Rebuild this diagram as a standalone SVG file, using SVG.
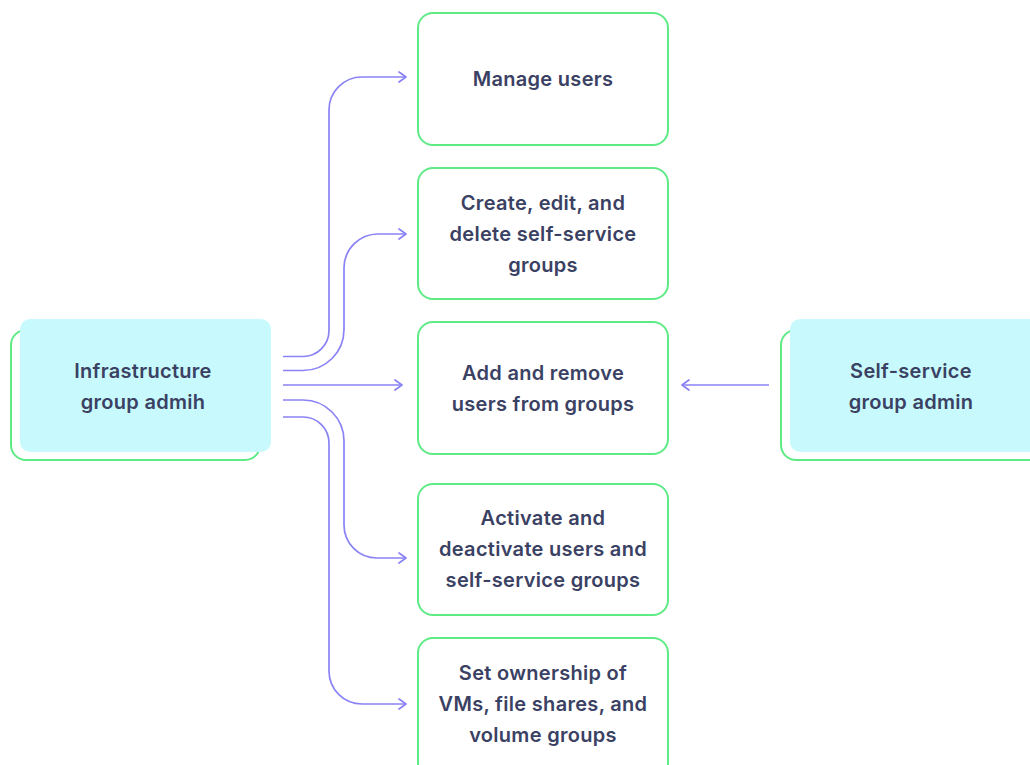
<svg xmlns="http://www.w3.org/2000/svg" width="1030" height="765" viewBox="0 0 1030 765">
<defs>
<style>
.box{fill:#fff;stroke:#5EEB86;stroke-width:2}
.back{fill:none;stroke:#5EEB86;stroke-width:2}
.front{fill:#C8FAFD}
.t{font-family:Inter,"Noto Sans",sans-serif;font-weight:600;font-size:20px;letter-spacing:0.3px;fill:#3A4163;text-anchor:middle}
.c{fill:none;stroke:#8A83F6;stroke-width:1.7;marker-end:url(#ah)}
</style>
<marker id="ah" markerUnits="userSpaceOnUse" markerWidth="14" markerHeight="14" refX="8" refY="6" orient="auto">
<path d="M1,1 L8,6 L1,11" fill="none" stroke="#8A83F6" stroke-width="1.7" stroke-linecap="round" stroke-linejoin="round"/>
</marker>
</defs>
<rect width="1030" height="765" fill="#fff"/>
<g id="connectors">
<path class="c" d="M283,356.5 H303 A26,26 0 0 0 329,330.5 V110 A33,33 0 0 1 362,77 H406"/>
<path class="c" d="M283,370.5 H303 A41,41 0 0 0 344,329.5 V268 A34,34 0 0 1 378,234 H406"/>
<path class="c" d="M283,385 H402"/>
<path class="c" d="M283,400 H303 A41,41 0 0 1 344,441 V525 A33,33 0 0 0 377,558 H406"/>
<path class="c" d="M283,417 H303 A26,26 0 0 1 329,443 V671 A33,33 0 0 0 362,704 H406"/>
<path class="c" d="M769,385 H682"/>
</g>
<g id="infra">
<rect class="back" x="11" y="330" width="249" height="130" rx="15"/>
<rect class="front" x="20" y="319" width="251" height="133" rx="10"/>
<text class="t" x="143" y="378">Infrastructure</text>
<text class="t" x="143" y="409">group admih</text>
</g>
<g id="selfservice">
<rect class="back" x="781" y="330" width="270" height="130" rx="15"/>
<rect class="front" x="790" y="319" width="260" height="133" rx="10"/>
<text class="t" x="911" y="378">Self-service</text>
<text class="t" x="911" y="409">group admin</text>
</g>
<g id="manage">
<rect class="box" x="418" y="13" width="250" height="132" rx="15"/>
<text class="t" x="543" y="86">Manage users</text>
</g>
<g id="create">
<rect class="box" x="418" y="168" width="250" height="131" rx="15"/>
<text class="t" x="543" y="210">Create, edit, and</text>
<text class="t" x="543" y="241">delete self-service</text>
<text class="t" x="543" y="272">groups</text>
</g>
<g id="addremove">
<rect class="box" x="418" y="322" width="250" height="132" rx="15"/>
<text class="t" x="543" y="380">Add and remove</text>
<text class="t" x="543" y="411">users from groups</text>
</g>
<g id="activate">
<rect class="box" x="418" y="484" width="250" height="131" rx="15"/>
<text class="t" x="543" y="525">Activate and</text>
<text class="t" x="543" y="556">deactivate users and</text>
<text class="t" x="543" y="587">self-service groups</text>
</g>
<g id="ownership">
<rect class="box" x="418" y="638" width="250" height="140" rx="15"/>
<text class="t" x="543" y="680">Set ownership of</text>
<text class="t" x="543" y="711">VMs, file shares, and</text>
<text class="t" x="543" y="742">volume groups</text>
</g>
</svg>
